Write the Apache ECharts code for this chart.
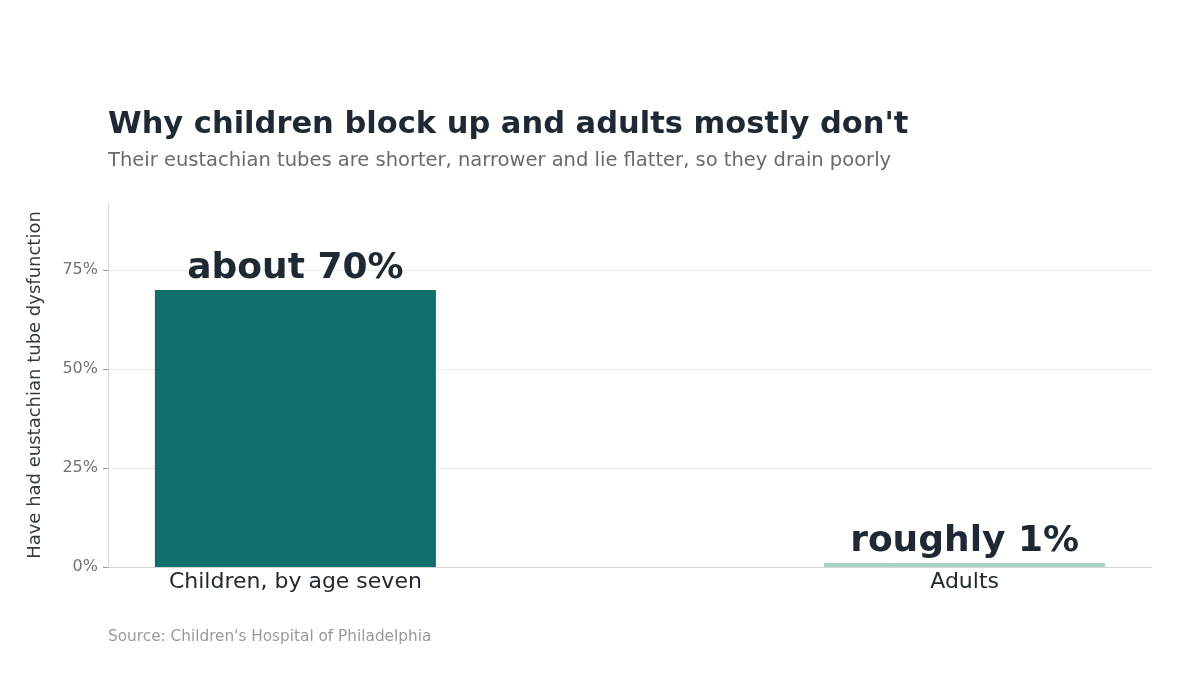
<!DOCTYPE html>
<html>
<head>
<meta charset="utf-8">
<script src="https://cdn.jsdelivr.net/npm/echarts@6/dist/echarts.min.js"></script>
<style>
html,body{margin:0;padding:0;background:#fff;}
#c{width:1200px;height:675px;}
</style>
</head>
<body>
<div id="c"></div>
<script>
const categories = ["Children, by age seven", "Adults"];
const values = [70, 1];
const barLabels = ["about 70%", "roughly 1%"];
const barColors = ["#106e6b", "#a8d3cb"];
const yTicks = [0, 25, 50, 75];

const chart = echarts.init(document.getElementById('c'));
const font = "DejaVu Sans";
chart.setOption({
  backgroundColor: '#ffffff',
  animation: false,
  textStyle: { fontFamily: font },
  title: [
    { text: "Why children block up and adults mostly don't", left: 108, top: 110, padding: 0,
      textStyle: { fontFamily: font, fontSize: 30.5, fontWeight: 'bold', color: '#1f2933' } },
    { text: "Their eustachian tubes are shorter, narrower and lie flatter, so they drain poorly", left: 108, top: 151, padding: 0,
      textStyle: { fontFamily: font, fontSize: 19.5, fontWeight: 'normal', color: '#666b70' } },
    { text: "Source: Children's Hospital of Philadelphia", left: 108, top: 630, padding: 0,
      textStyle: { fontFamily: font, fontSize: 15.3, fontWeight: 'normal', color: '#999999' } }
  ],
  grid: { left: 108, right: 48, top: 203, bottom: 108, containLabel: false },
  xAxis: {
    type: 'value', min: -0.28, max: 1.28,
    splitLine: { show: false },
    axisLine: { show: true, onZero: false, lineStyle: { color: '#d6d6d6' } },
    axisTick: { show: false },
    axisLabel: {
      customValues: [0, 1],
      formatter: v => categories[Math.round(v)] || '',
      fontSize: 22, color: '#222a30', margin: 4, fontFamily: font
    }
  },
  yAxis: {
    type: 'value', min: 0, max: 92, interval: 25,
    name: 'Have had eustachian tube dysfunction',
    nameLocation: 'middle', nameGap: 64,
    nameTextStyle: { fontSize: 18, color: '#333a40', fontFamily: font },
    axisLine: { show: true, onZero: false, lineStyle: { color: '#d6d6d6' } },
    axisTick: { show: true, length: 5, lineStyle: { color: '#999' }, customValues: yTicks },
    axisLabel: { customValues: yTicks, formatter: v => v + '%', fontSize: 16, color: '#6e7478', margin: 10, padding: [4, 0, 0, 0], fontFamily: font },
    splitLine: { show: true, lineStyle: { color: '#ececec' } }
  },
  series: [{
    type: 'bar',
    barWidth: 281,
    data: values.map((v, i) => ({ value: [i, v], itemStyle: { color: barColors[i] } })),
    label: {
      show: true, position: 'top', distance: 3,
      formatter: p => barLabels[p.dataIndex],
      fontSize: 36, fontWeight: 'bold', color: '#1f2933', fontFamily: font
    }
  }]
});
</script>
</body>
</html>
